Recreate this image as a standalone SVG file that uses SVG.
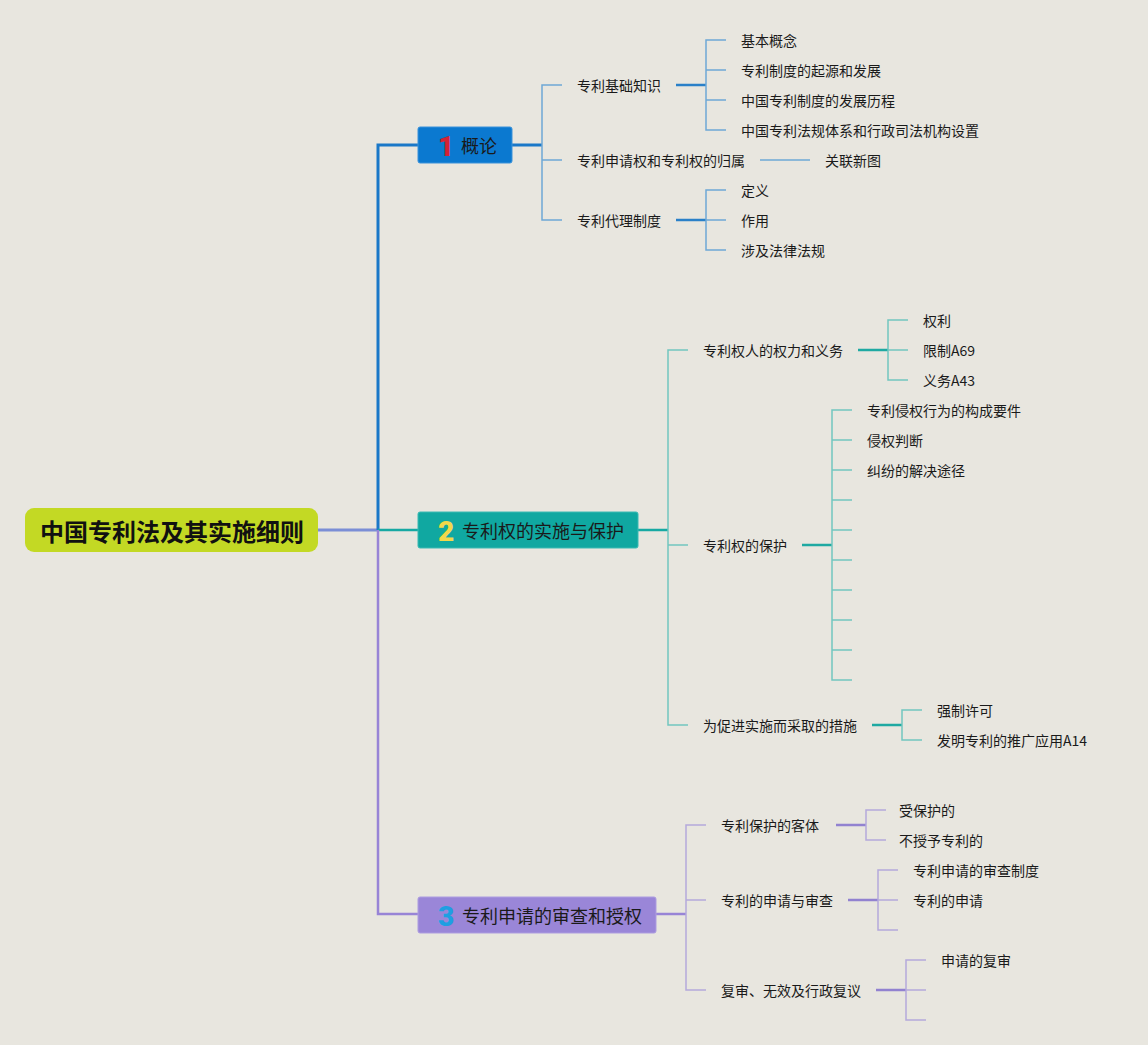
<svg xmlns="http://www.w3.org/2000/svg" width="1148" height="1045" viewBox="0 0 1148 1045">
<style>
text{font-family:"Noto Sans CJK SC","Liberation Sans",sans-serif;fill:#1a1a1a;dominant-baseline:central}
.lbl{font-size:14px}
.main{font-size:18px}
.num{font-size:28px;font-weight:900;font-family:Roboto,"Liberation Sans",sans-serif}
.c{fill:none;stroke-linejoin:miter}
.b1{stroke:#1a78c8;stroke-width:3}
.b1s{stroke:#6ea8d6;stroke-width:1.5}
.b1m{stroke:#2a80c8;stroke-width:2.5}
.b2{stroke:#17a9a3;stroke-width:2.5}
.b2s{stroke:#72c6c0;stroke-width:1.5}
.b2m{stroke:#1fa9a2;stroke-width:2.5}
.b3{stroke:#9884d6;stroke-width:2.5}
.b3s{stroke:#b4a9dc;stroke-width:1.5}
.b3m{stroke:#9282d0;stroke-width:2.5}
</style>
<rect width="1148" height="1045" fill="#e8e6df"/>
<g id="connectors">
<path class="c" d="M318 530 H378" stroke="#7b8ed6" stroke-width="3"/>
<path class="c b1" d="M378 530 V145 H418"/>
<path class="c b2" d="M378 530 H418"/>
<path class="c b3" d="M378 530 V914 H418"/>
<path class="c b1" d="M512 145 H542" stroke-width="2"/>
<path class="c b1s" d="M562 85 H542 V220 H562 M542 160 H562"/>
<path class="c b1m" d="M676 85 H706"/>
<path class="c b1s" d="M726 40 H706 V130 H726 M706 70 H726 M706 100 H726"/>
<path class="c b1s" d="M760 160 H810"/>
<path class="c b1m" d="M676 220 H706"/>
<path class="c b1s" d="M726 190 H706 V250 H726 M706 220 H726"/>
<path class="c b2" d="M638 530 H668" stroke-width="2"/>
<path class="c b2s" d="M688 350 H668 V725 H688 M668 545 H688"/>
<path class="c b2m" d="M858 350 H888"/>
<path class="c b2s" d="M908 320 H888 V380 H908 M888 350 H908"/>
<path class="c b2m" d="M802 545 H832"/>
<path class="c b2s" d="M852 410 H832 V680 H852 M832 440 H852 M832 470 H852 M832 500 H852 M832 530 H852 M832 560 H852 M832 590 H852 M832 620 H852 M832 650 H852"/>
<path class="c b2m" d="M872 725 H902"/>
<path class="c b2s" d="M922 710 H902 V740 H922"/>
<path class="c b3" d="M656 914 H686" stroke-width="2"/>
<path class="c b3s" d="M706 825 H686 V990 H706 M686 900 H706"/>
<path class="c b3m" d="M836 825 H866"/>
<path class="c b3s" d="M886 810 H866 V840 H886"/>
<path class="c b3m" d="M848 900 H878"/>
<path class="c b3s" d="M898 870 H878 V930 H898 M878 900 H898"/>
<path class="c b3m" d="M876 990 H906"/>
<path class="c b3s" d="M926 960 H906 V1020 H926 M906 990 H926"/>
</g>
<g id="root">
<rect x="25" y="508" width="293" height="44" rx="9" fill="#c3d924"/>
<text x="172" y="530" text-anchor="middle" style="font-size:24px;font-weight:bold;fill:#111">中国专利法及其实施细则</text>
</g>
<g id="n1">
<rect x="418" y="127" width="94" height="36" rx="2" fill="#0b79d0" stroke="#3b92da" stroke-width="1"/>
<text class="num" x="446" y="146" text-anchor="middle" style="fill:#d42236">1</text>
<text class="main" x="461" y="145">概论</text>
</g>
<g id="n1a"><text class="lbl" x="577" y="85">专利基础知识</text></g>
<g id="n1a1"><text class="lbl" x="741" y="40">基本概念</text></g>
<g id="n1a2"><text class="lbl" x="741" y="70">专利制度的起源和发展</text></g>
<g id="n1a3"><text class="lbl" x="741" y="100">中国专利制度的发展历程</text></g>
<g id="n1a4"><text class="lbl" x="741" y="130">中国专利法规体系和行政司法机构设置</text></g>
<g id="n1b"><text class="lbl" x="577" y="160">专利申请权和专利权的归属</text></g>
<g id="n1b1"><text class="lbl" x="825" y="160">关联新图</text></g>
<g id="n1c"><text class="lbl" x="577" y="220">专利代理制度</text></g>
<g id="n1c1"><text class="lbl" x="741" y="190">定义</text></g>
<g id="n1c2"><text class="lbl" x="741" y="220">作用</text></g>
<g id="n1c3"><text class="lbl" x="741" y="250">涉及法律法规</text></g>
<g id="n2">
<rect x="418" y="512" width="220" height="36" rx="2" fill="#10a8a1" stroke="#3bbab3" stroke-width="1"/>
<text class="num" x="446" y="531" text-anchor="middle" style="fill:#f2d84a">2</text>
<text class="main" x="462" y="530">专利权的实施与保护</text>
</g>
<g id="n2a"><text class="lbl" x="703" y="350">专利权人的权力和义务</text></g>
<g id="n2a1"><text class="lbl" x="923" y="320">权利</text></g>
<g id="n2a2"><text class="lbl" x="923" y="350">限制A69</text></g>
<g id="n2a3"><text class="lbl" x="923" y="380">义务A43</text></g>
<g id="n2b"><text class="lbl" x="703" y="545">专利权的保护</text></g>
<g id="n2b1"><text class="lbl" x="867" y="410">专利侵权行为的构成要件</text></g>
<g id="n2b2"><text class="lbl" x="867" y="440">侵权判断</text></g>
<g id="n2b3"><text class="lbl" x="867" y="470">纠纷的解决途径</text></g>
<g id="n2c"><text class="lbl" x="703" y="725">为促进实施而采取的措施</text></g>
<g id="n2c1"><text class="lbl" x="937" y="710">强制许可</text></g>
<g id="n2c2"><text class="lbl" x="937" y="740">发明专利的推广应用A14</text></g>
<g id="n3">
<rect x="418" y="897" width="238" height="36" rx="2" fill="#9a86d8" stroke="#ad9de0" stroke-width="1"/>
<text class="num" x="446" y="916" text-anchor="middle" style="fill:#1e9fe2">3</text>
<text class="main" x="462" y="915">专利申请的审查和授权</text>
</g>
<g id="n3a"><text class="lbl" x="721" y="825">专利保护的客体</text></g>
<g id="n3a1"><text class="lbl" x="899" y="810">受保护的</text></g>
<g id="n3a2"><text class="lbl" x="899" y="840">不授予专利的</text></g>
<g id="n3b"><text class="lbl" x="721" y="900">专利的申请与审查</text></g>
<g id="n3b1"><text class="lbl" x="913" y="870">专利申请的审查制度</text></g>
<g id="n3b2"><text class="lbl" x="913" y="900">专利的申请</text></g>
<g id="n3c"><text class="lbl" x="721" y="990">复审、无效及行政复议</text></g>
<g id="n3c1"><text class="lbl" x="941" y="960">申请的复审</text></g>
</svg>
